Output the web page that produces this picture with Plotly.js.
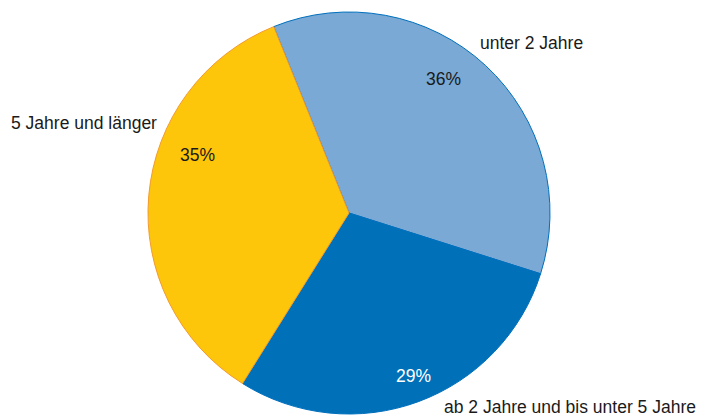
<!DOCTYPE html>
<html>
<head>
<meta charset="utf-8">
<script src="https://cdn.plot.ly/plotly-3.0.1.min.js"></script>
<style>html,body{margin:0;padding:0;background:#fff;}#chart{width:708px;height:418px;}</style>
</head>
<body>
<div id="chart"></div>
<script>
// Data
const categories = ["unter 2 Jahre", "ab 2 Jahre und bis unter 5 Jahre", "5 Jahre und länger"];
const shares = [36, 29, 35];

// Styles
const fillColors = ["#79a9d4", "#0071b9", "#fec60b"];
const lineColors = ["#0070bd", "#0070bd", "#f29a2e"];
const pctColors = ["#1a1a1a", "#ffffff", "#1a1a1a"];

// Text positions in pixels (label anchor left, percent centered)
const W = 708, H = 418;
const labelPos = [[479, 43], [443, 407], [10, 123]];
const pctPos = [[443, 79], [413, 376], [197, 155]];

const annotations = [];
categories.forEach((c, i) => {
  annotations.push({
    text: c, xref: "paper", yref: "paper",
    x: labelPos[i][0] / W, y: 1 - labelPos[i][1] / H,
    xanchor: "left", yanchor: "middle", showarrow: false,
    borderpad: 0,
    font: {family: "Liberation Sans, Arial, sans-serif", size: 17.5, color: "#1a1a1a"}
  });
  annotations.push({
    text: shares[i] + "%", xref: "paper", yref: "paper",
    x: pctPos[i][0] / W, y: 1 - pctPos[i][1] / H,
    xanchor: "center", yanchor: "middle", showarrow: false,
    font: {family: "Liberation Sans, Arial, sans-serif", size: 17.5, color: pctColors[i]}
  });
});

const trace = {
  type: "pie",
  labels: categories,
  values: shares,
  sort: false,
  direction: "clockwise",
  rotation: -22,
  textinfo: "none",
  hoverinfo: "label+percent",
  marker: {colors: fillColors, line: {color: lineColors, width: 1}},
  domain: {x: [148 / W, 550 / W], y: [4 / H, 1 - 12 / H]}
};

const layout = {
  width: W, height: H,
  margin: {l: 0, r: 0, t: 0, b: 0},
  showlegend: false,
  paper_bgcolor: "#ffffff",
  annotations: annotations
};

Plotly.newPlot("chart", [trace], layout, {displayModeBar: false, staticPlot: true});
</script>
</body>
</html>
